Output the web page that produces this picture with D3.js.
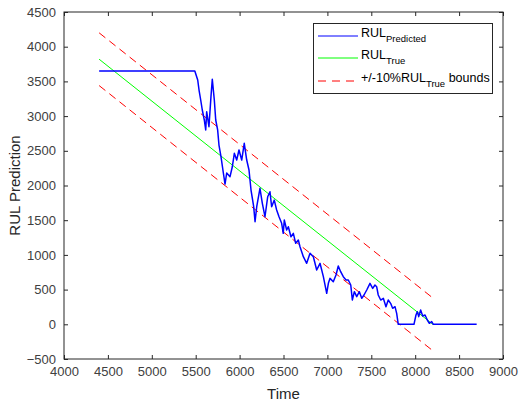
<!DOCTYPE html>
<html>
<head>
<meta charset="utf-8">
<script src="https://cdn.jsdelivr.net/npm/d3@7"></script>
<style>
  body { margin: 0; background: #fff; }
  text { font-family: "Liberation Sans", Arial, sans-serif; }
</style>
</head>
<body>
<svg id="chart"></svg>
<script>
var width = 519,
    height = 403;

// predicted RUL
var tPred = [4400, 5490, 5523, 5538, 5557, 5575, 5598, 5614, 5625, 5651, 5674, 5689, 5712, 5728, 5750, 5765,
  5788, 5815, 5834, 5853, 5891, 5917, 5940, 5967, 5993, 6024, 6053, 6081, 6107, 6130, 6160, 6176, 6195,
  6232, 6259, 6289, 6320, 6346, 6365, 6395, 6422, 6449, 6479, 6497, 6509, 6536, 6555, 6585, 6612, 6639,
  6669, 6688, 6726, 6764, 6802, 6840, 6878, 6916, 6954, 6992, 7011, 7030, 7067, 7098, 7124, 7151, 7181,
  7212, 7238, 7266, 7284, 7307, 7334, 7364, 7391, 7417, 7448, 7485, 7516, 7542, 7561, 7579, 7607, 7637,
  7667, 7693, 7720, 7743, 7770, 7789, 7807, 7986, 8009, 8024, 8040, 8062, 8085, 8112, 8138, 8161, 8188,
  8206, 8700];
var rulPred = [3650, 3650, 3520, 3376, 3232, 3088, 2944, 2800, 3063, 2847, 3280, 3530, 3232, 2944, 2800, 2583,
  2415, 2180, 2020, 2180, 2127, 2270, 2464, 2367, 2511, 2367, 2608, 2367, 2223, 1935, 1700, 1478, 1694,
  1960, 1743, 1550, 1838, 1910, 1694, 1790, 1647, 1550, 1455, 1311, 1503, 1359, 1406, 1262, 1311, 1167,
  1215, 1118, 974, 879, 1023, 974, 782, 879, 686, 446, 590, 662, 614, 710, 840, 758, 686,
  638, 638, 566, 350, 470, 398, 470, 374, 422, 494, 590, 518, 566, 542, 422, 350, 374,
  254, 350, 302, 230, 254, 158, 0, 0, 134, 182, 110, 206, 120, 134, 62, 14, 38,
  0, 0];

// true RUL and +/-10% bounds
var tTrue = [4400, 8200];
var rulTrue = [3820, 0];
var boundUpper = [4200, 380];
var boundLower = [3440, -380];

var xTicks = [4000, 4500, 5000, 5500, 6000, 6500, 7000, 7500, 8000, 8500, 9000];
var yTicks = [-500, 0, 500, 1000, 1500, 2000, 2500, 3000, 3500, 4000, 4500];

var plotLeft = 64, plotRight = 503, plotTop = 12, plotBottom = 359;

var svg = d3.select("#chart")
    .attr("width", width)
    .attr("height", height);

var x = d3.scaleLinear().domain([4000, 9000]).range([plotLeft, plotRight]);
var y = d3.scaleLinear().domain([-500, 4500]).range([plotBottom, plotTop]);

var line = d3.line()
    .x(function(d) { return x(d[0]); })
    .y(function(d) { return y(d[1]); });

// bounds
svg.append("path")
    .datum(d3.zip(tTrue, boundUpper))
    .attr("d", line)
    .attr("fill", "none").attr("stroke", "#ff0000").attr("stroke-width", 1)
    .attr("stroke-dasharray", "8,5");
svg.append("path")
    .datum(d3.zip(tTrue, boundLower))
    .attr("d", line)
    .attr("fill", "none").attr("stroke", "#ff0000").attr("stroke-width", 1)
    .attr("stroke-dasharray", "8,5");

// true
svg.append("path")
    .datum(d3.zip(tTrue, rulTrue))
    .attr("d", line)
    .attr("fill", "none").attr("stroke", "#00ff00").attr("stroke-width", 1);

// predicted
svg.append("path")
    .datum(d3.zip(tPred, rulPred))
    .attr("d", line)
    .attr("fill", "none").attr("stroke", "#0000ff").attr("stroke-width", 1.5)
    .attr("stroke-linejoin", "round");

// axes (ticks inside, box on)
var axisColor = "#262626";
function styleAxis(g) {
  g.select(".domain").remove();
  g.selectAll(".tick line").attr("stroke", axisColor);
  g.selectAll(".tick text").attr("fill", "#404040").style("font-size", "13px");
}
svg.append("g")
    .attr("transform", "translate(0," + plotBottom + ")")
    .call(d3.axisBottom(x).tickValues(xTicks).tickFormat(d3.format("d")).tickSizeInner(-4).tickPadding(8))
    .call(styleAxis);
svg.append("g")
    .attr("transform", "translate(" + plotLeft + ",0)")
    .call(d3.axisLeft(y).tickValues(yTicks).tickFormat(d3.format("d")).tickSizeInner(-4).tickPadding(8))
    .call(styleAxis);
svg.append("g")
    .attr("transform", "translate(0," + plotTop + ")")
    .call(d3.axisTop(x).tickValues(xTicks).tickFormat("").tickSizeInner(-4))
    .call(styleAxis);
svg.append("g")
    .attr("transform", "translate(" + plotRight + ",0)")
    .call(d3.axisRight(y).tickValues(yTicks).tickFormat("").tickSizeInner(-4))
    .call(styleAxis);

svg.append("rect")
    .attr("x", plotLeft).attr("y", plotTop)
    .attr("width", plotRight - plotLeft).attr("height", plotBottom - plotTop)
    .attr("fill", "none").attr("stroke", axisColor).attr("stroke-width", 1);

// axis labels
svg.append("text")
    .attr("x", (plotLeft + plotRight) / 2).attr("y", 399)
    .attr("text-anchor", "middle")
    .attr("fill", "#262626")
    .style("font-size", "15px")
    .text("Time");
svg.append("text")
    .attr("transform", "translate(20," + ((plotTop + plotBottom) / 2) + ") rotate(-90)")
    .attr("text-anchor", "middle")
    .attr("fill", "#262626")
    .style("font-size", "15px")
    .text("RUL Prediction");

// legend
var legend = svg.append("g");
legend.append("rect")
    .attr("x", 313.5).attr("y", 23.5)
    .attr("width", 179).attr("height", 70)
    .attr("fill", "#fff").attr("stroke", axisColor).attr("stroke-width", 1);

var legendItems = [
  { main: "RUL", sub: "Predicted", after: "", color: "#0000ff", dash: null, y: 36 },
  { main: "RUL", sub: "True", after: "", color: "#00ff00", dash: null, y: 58 },
  { main: "+/-10%RUL", sub: "True", after: " bounds", color: "#ff0000", dash: "8,6", y: 81 }
];
legendItems.forEach(function(d) {
  legend.append("line")
      .attr("x1", 318).attr("x2", 358)
      .attr("y1", d.y).attr("y2", d.y)
      .attr("stroke", d.color).attr("stroke-width", 1)
      .attr("stroke-dasharray", d.dash);
  var t = legend.append("text")
      .attr("x", 361).attr("y", d.y + 1)
      .attr("fill", "#000")
      .style("font-size", "12.5px");
  t.append("tspan").text(d.main);
  t.append("tspan").attr("dy", 5).style("font-size", "9.5px").text(d.sub);
  if (d.after) t.append("tspan").attr("dy", -5).text(d.after);
});
</script>
</body>
</html>
